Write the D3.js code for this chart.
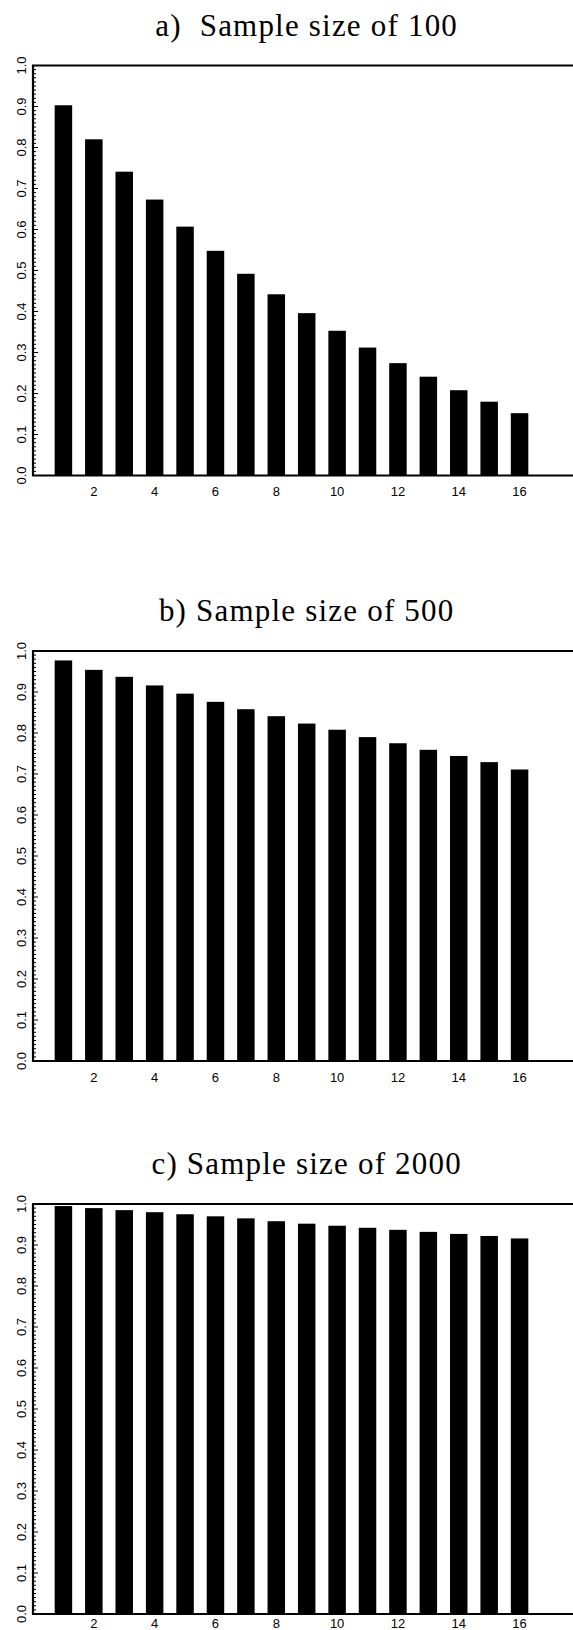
<!DOCTYPE html>
<html>
<head>
<meta charset="utf-8">
<script src="https://cdn.jsdelivr.net/npm/d3@7"></script>
<style>
  body { margin: 0; background: #fff; }
  text.title { white-space: pre; }
</style>
</head>
<body>
<script>
// data
const lags = [1, 2, 3, 4, 5, 6, 7, 8, 9, 10, 11, 12, 13, 14, 15, 16];
const size100 = [0.903, 0.820, 0.741, 0.673, 0.607, 0.548, 0.492, 0.442, 0.396, 0.353, 0.312, 0.274, 0.241, 0.208, 0.180, 0.152];
const size500 = [0.977, 0.954, 0.937, 0.916, 0.896, 0.876, 0.858, 0.841, 0.823, 0.808, 0.790, 0.775, 0.759, 0.744, 0.729, 0.711];
const size2000 = [0.995, 0.990, 0.985, 0.980, 0.975, 0.970, 0.965, 0.958, 0.952, 0.947, 0.942, 0.937, 0.932, 0.927, 0.922, 0.916];
const titles = ["a)  Sample size of 100", "b) Sample size of 500", "c) Sample size of 2000"];
const xTicks = [2, 4, 6, 8, 10, 12, 14, 16];
const yTicks = [0, 0.1, 0.2, 0.3, 0.4, 0.5, 0.6, 0.7, 0.8, 0.9, 1.0];
const yMinor = d3.range(0, 101).map(d => d / 100);

const W = 573, H = 1630;
const panelTop = [65.5, 651, 1204];
const titleY = [25, 610, 1163];
const plotH = 410;
const series = [size100, size500, size2000];

const svg = d3.select("body").append("svg")
  .attr("width", W)
  .attr("height", H)
  .style("display", "block");

const x = d3.scaleLinear().domain([0, 18]).range([33, 580.4]);
const barW = x(0.575) - x(0);

series.forEach((vals, p) => {
  const top = panelTop[p];
  const y = d3.scaleLinear().domain([0, 1]).range([top + plotH, top]);
  const g = svg.append("g");

  g.append("text")
    .attr("class", "title")
    .attr("x", (x(0) + x(18)) / 2)
    .attr("y", titleY[p])
    .attr("dy", "0.35em")
    .attr("text-anchor", "middle")
    .attr("font-family", "'Liberation Serif', serif")
    .attr("font-size", 31)
    .attr("letter-spacing", 1.2)
    .text(titles[p]);

  g.selectAll("rect.bar")
    .data(lags)
    .join("rect")
    .attr("class", "bar")
    .attr("x", d => x(d) - barW / 2)
    .attr("width", barW)
    .attr("y", (d, i) => y(vals[i]))
    .attr("height", (d, i) => y(0) - y(vals[i]))
    .attr("fill", "#000");

  // minor + major ticks pointing inward
  g.selectAll("line.minor")
    .data(yMinor)
    .join("line")
    .attr("x1", x(0))
    .attr("x2", (d, i) => x(0) + (i % 10 === 0 ? 5 : 3))
    .attr("y1", d => y(d))
    .attr("y2", d => y(d))
    .attr("stroke", "#000")
    .attr("stroke-width", 1);

  g.selectAll("text.ylab")
    .data(yTicks)
    .join("text")
    .attr("transform", d => `translate(21,${y(d)}) rotate(-90)`)
    .attr("text-anchor", "middle")
    .attr("dy", "0.35em")
    .attr("font-family", "'Liberation Sans', Arial, sans-serif")
    .attr("font-size", 13)
    .text(d3.format(".1f"));

  g.selectAll("text.xlab")
    .data(xTicks)
    .join("text")
    .attr("x", d => x(d))
    .attr("y", Math.min(y(0) + 16, H - 7))
    .attr("dy", "0.35em")
    .attr("text-anchor", "middle")
    .attr("font-family", "'Liberation Sans', Arial, sans-serif")
    .attr("font-size", 13)
    .text(d => d);

  // frame: left, top, bottom
  g.append("path")
    .attr("d", `M${x(18)},${y(1)}H${x(0)}V${y(0)}H${x(18)}`)
    .attr("fill", "none")
    .attr("stroke", "#000")
    .attr("stroke-width", 2.2);
});
</script>
</body>
</html>
